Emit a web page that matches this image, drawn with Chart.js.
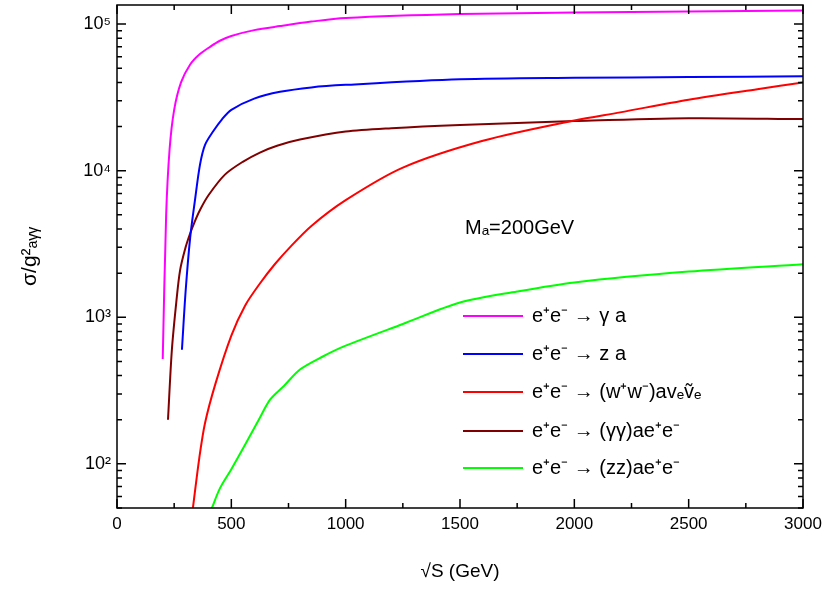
<!DOCTYPE html><html><head><script src="https://cdn.jsdelivr.net/npm/chart.js@4"></script>
<style>body{margin:0;background:#fff}#w{width:830px;height:590px}</style></head><body><div id="w"><canvas id="c"></canvas></div>
<script>
const labels=["e⁺e⁻ → γ a","e⁺e⁻ → z a","e⁺e⁻ → (w⁺w⁻)avₑṽₑ","e⁺e⁻ → (γγ)ae⁺e⁻","e⁺e⁻ → (zz)ae⁺e⁻"];
const colors=["#ff00ff","#0000ff","#ff0000","#800000","#00ff00"];
const gaX=[200,215,230,250,280,320,360,407,450,500,600,713,850,1000,1500,2000,2500,3000];
const gaY=[520,5000,14000,26000,40000,53000,62000,70000,77000,83000,91000,97000,104000,110000,117000,120000,122000,124000];
const zaX=[284,300,320,341,363,385,420,460,500,600,713,850,1000,1500,2000,2500,3000];
const zaY=[600,1500,3500,6300,11000,15000,18500,22500,26000,31000,34500,37000,38500,42000,43000,43500,44000];
const wwX=[332,360,385,430,500,560,625,690,756,850,1000,1250,1600,2000,2200,2500,2800,3000];
const wwY=[50,110,190,350,750,1200,1700,2300,3000,4200,6300,10500,16000,22000,25000,30500,36000,40000];
const ggX=[223,240,260,276,300,319,340,363,400,472,550,625,700,800,1000,1200,1500,2000,2500,3000];
const ggY=[200,600,1300,2100,3000,3700,4500,5400,6800,9400,11500,13300,14800,16300,18500,19500,20500,21800,22800,22500];
const zzX=[415,450,500,560,620,670,730,800,900,1000,1250,1500,1750,2000,2500,3000];
const zzY=[50,68,92,135,200,275,340,440,540,640,900,1260,1500,1730,2050,2300];
const series=[[gaX,gaY],[zaX,zaY],[wwX,wwY],[ggX,ggY],[zzX,zzY]];
const xTicks=[0,500,1000,1500,2000,2500,3000];
const yMajor=[100,1000,10000,100000];
const yLbl=["10²","10³","10⁴","10⁵"];
const F='"Liberation Sans", Arial, sans-serif';
const deco={id:'deco',afterDraw(ch){const c=ch.ctx,a=ch.chartArea,xs=ch.scales.x,ys=ch.scales.y;c.save();c.strokeStyle='#000';c.lineWidth=1.5;c.strokeRect(a.left,a.top,a.right-a.left,a.bottom-a.top);
c.beginPath();for(let v=0;v<=3000;v+=250){const p=xs.getPixelForValue(v),L=v%500?5:9;c.moveTo(p,a.bottom);c.lineTo(p,a.bottom-L);c.moveTo(p,a.top);c.lineTo(p,a.top+L);}
for(let e=1;e<=5;e++)for(let m=1;m<10;m++){const v=m*Math.pow(10,e);if(v<ys.min||v>ys.max)continue;const p=ys.getPixelForValue(v),L=m==1?9:5;c.moveTo(a.left,p);c.lineTo(a.left+L,p);c.moveTo(a.right,p);c.lineTo(a.right-L,p);}c.stroke();
c.fillStyle='#000';c.font='17px '+F;c.textAlign='center';c.textBaseline='top';xTicks.forEach(v=>c.fillText(v,xs.getPixelForValue(v),a.bottom+8));
c.textAlign='right';c.textBaseline='middle';c.font='18px '+F;yMajor.forEach((v,i)=>c.fillText(yLbl[i],a.left-6,ys.getPixelForValue(v)));
c.textAlign='center';c.font='19px '+F;c.fillText('√S (GeV)',(a.left+a.right)/2,572);
c.save();c.translate(30,(a.top+a.bottom)/2);c.rotate(-Math.PI/2);c.font='21px '+F;c.fillText('σ/g²ₐᵧᵧ',0,0);c.restore();
c.textAlign='left';c.font='20px '+F;c.fillText('Mₐ=200GeV',465,228);
const ly=[316,354,392,431,468];ly.forEach((y,i)=>{c.strokeStyle=colors[i];c.lineWidth=2;c.beginPath();c.moveTo(463,y);c.lineTo(523,y);c.stroke();c.fillStyle='#000';c.fillText(labels[i],532,y);});
c.restore();}};
new Chart(document.getElementById('c'),{type:'line',data:{datasets:series.map((s,i)=>({label:labels[i],data:s[0].map((x,j)=>({x,y:s[1][j]})),borderColor:colors[i],borderWidth:2,pointRadius:0,tension:0.3,fill:false}))},
options:{responsive:true,maintainAspectRatio:false,animation:false,layout:{padding:{left:0,right:27,top:5,bottom:0}},plugins:{legend:{display:false},tooltip:{enabled:false}},
scales:{x:{type:'linear',min:0,max:3000,grid:{display:false},border:{display:false},ticks:{display:true,color:'rgba(0,0,0,0)',font:{size:17}},afterFit(s){s.height=82;}},
y:{type:'logarithmic',min:50,max:135000,grid:{display:false},border:{display:false},ticks:{display:false},afterFit(s){s.width=117;}}}},plugins:[deco]});
</script></body></html>
